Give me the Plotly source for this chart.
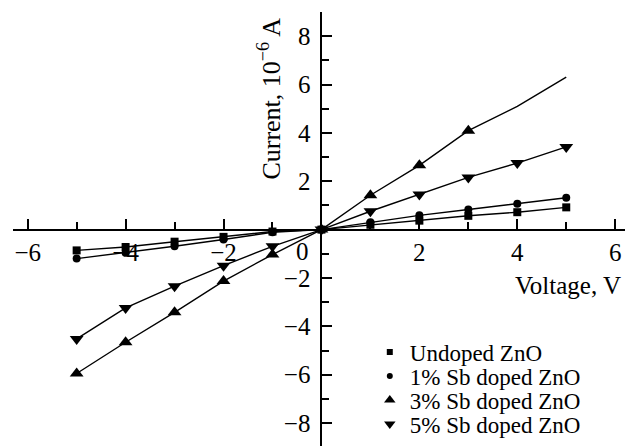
import plotly.graph_objects as go

voltage = [-5, -4, -3, -2, -1, 0, 1, 2, 3, 4, 5]
undoped = [-0.86, -0.72, -0.5, -0.3, -0.08, 0, 0.2, 0.37, 0.57, 0.72, 0.92]
sb1 = [-1.2, -0.96, -0.69, -0.41, -0.11, 0, 0.3, 0.59, 0.83, 1.07, 1.32]
sb3 = [-5.95, -4.66, -3.42, -2.13, -1.03, 0, 1.42, 2.66, 4.09, 5.1, 6.31]
sb5 = [-4.52, -3.24, -2.34, -1.49, -0.69, 0, 0.76, 1.45, 2.16, 2.75, 3.42]

names = ["Undoped ZnO", "1% Sb doped ZnO", "3% Sb doped ZnO", "5% Sb doped ZnO"]
series = [undoped, sb1, sb3, sb5]
symbols = ["square", "circle", "triangle-up", "triangle-down"]
msizes = [8, 8, 12, 12]

x_major = [-6, -4, -2, 2, 4, 6]
x_minor = [-5, -3, -1, 1, 3, 5]
y_major = [-8, -6, -4, -2, 2, 4, 6, 8]
y_minor = [-9, -7, -5, -3, -1, 1, 3, 5, 7, 9]

FONT = "Liberation Serif, Times New Roman, serif"
# the page body adds an 8px offset; the figure is sized to fit the window
W, H = 631, 438
ML, MR, MT, MB = 5, 14, 4, 0
OFF = 8
legend_names = ["legend", "legend2", "legend3", "legend4"]
legend_rows_px = [352, 376, 400, 424]

fig = go.Figure()
for name, ys, sym, ms, lg in zip(names, series, symbols, msizes, legend_names):
    if sym == "triangle-up":
        sizes = [ms if v <= 3 else 0 for v in voltage]
    else:
        sizes = ms
    fig.add_trace(go.Scatter(x=voltage, y=ys, mode="lines+markers", showlegend=False,
                             line=dict(color="black", width=1.4),
                             marker=dict(symbol=sym, size=sizes, color="black", opacity=1,
                                         line=dict(width=0))))
    fig.add_trace(go.Scatter(x=[None], y=[None], mode="markers", name=name, legend=lg,
                             marker=dict(symbol=sym, size=ms - 2, color="black", opacity=1,
                                         line=dict(width=0))))

xr = [-6.3, 6.2]
yr = [-8.95, 9.0]
axis_common = dict(showgrid=False, zeroline=False, showline=True, linecolor="black",
                   linewidth=2, tickmode="array", ticks="inside", ticklen=10, tickwidth=1.5,
                   tickcolor="black", automargin=False,
                   tickfont=dict(size=25, family=FONT, color="black"))
legend_layout = {}
for lg, py in zip(legend_names, legend_rows_px):
    legend_layout[lg] = dict(x=0.583, y=(H - MB - (py - OFF)) / (H - MT - MB),
                             xanchor="left", yanchor="middle", bgcolor="rgba(0,0,0,0)",
                             font=dict(size=23, family=FONT, color="black"), itemwidth=30)

fig.update_layout(
    width=W, height=H,
    margin=dict(l=ML, r=MR, t=MT, b=MB),
    paper_bgcolor="white", plot_bgcolor="white",
    font=dict(family=FONT, size=25, color="black"),
    xaxis=dict(range=xr, anchor="free", position=(0 - yr[0]) / (yr[1] - yr[0]),
               tickvals=x_major, ticklabelstandoff=0,
               minor=dict(tickmode="array", tickvals=x_minor, ticks="inside", ticklen=7,
                          tickwidth=1.5, tickcolor="black"), **axis_common),
    yaxis=dict(range=yr, anchor="free", position=(0 - xr[0]) / (xr[1] - xr[0]),
               tickvals=y_major, ticklabelstandoff=5,
               minor=dict(tickmode="array", tickvals=y_minor, ticks="inside", ticklen=7,
                          tickwidth=1.5, tickcolor="black"), **axis_common),
    annotations=[
        dict(x=-0.39, y=-0.91, xref="x", yref="y", text="0", showarrow=False,
             font=dict(size=25, family=FONT)),
        dict(x=6.15, y=-2.3, xref="x", yref="y", text="Voltage, V", showarrow=False,
             xanchor="right", font=dict(size=25, family=FONT)),
        dict(x=-1.06, y=5.4, xref="x", yref="y", text="Current, 10<sup>−6</sup> A",
             showarrow=False, textangle=-90, font=dict(size=26, family=FONT)),
    ],
    **legend_layout,
)
fig.write_html("out.html")
